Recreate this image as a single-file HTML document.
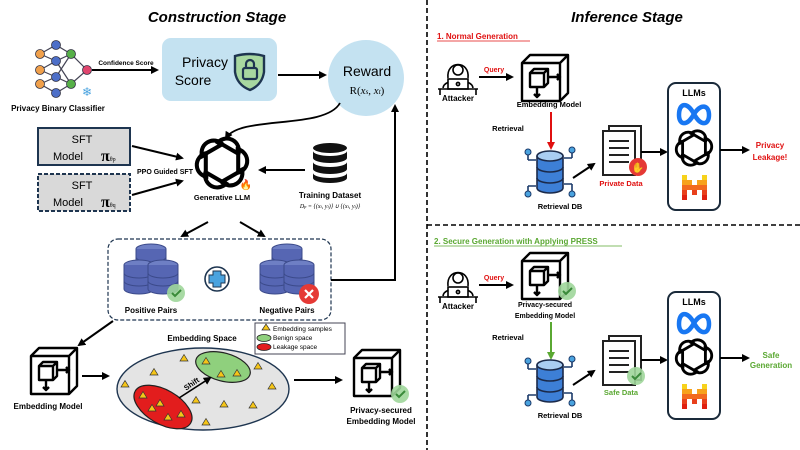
<!DOCTYPE html>
<html><head><meta charset="utf-8"><style>
html,body{margin:0;padding:0;background:#fff;}
svg{display:block;font-family:"Liberation Sans",sans-serif;}
.b{font-weight:bold;}
</style></head><body>
<svg width="800" height="450" viewBox="0 0 800 450" xmlns="http://www.w3.org/2000/svg">
<defs>
<marker id="ah" markerWidth="8" markerHeight="8" refX="6" refY="4" orient="auto" markerUnits="userSpaceOnUse"><path d="M0,0 L8,4 L0,8 Z" fill="#000"/></marker>
<marker id="ahr" markerWidth="8" markerHeight="8" refX="6" refY="4" orient="auto" markerUnits="userSpaceOnUse"><path d="M0,0 L8,4 L0,8 Z" fill="#e01010"/></marker>
<marker id="ahg" markerWidth="8" markerHeight="8" refX="6" refY="4" orient="auto" markerUnits="userSpaceOnUse"><path d="M0,0 L8,4 L0,8 Z" fill="#5aa832"/></marker>
<g id="cube" fill="none" stroke="#000" stroke-width="2.4" stroke-linejoin="round">
<path d="M0,8 L8,0 L46,0 L46,38 L38,46 L0,46 Z"/>
<path d="M0,8 L38,8 L38,46 M38,8 L46,0"/>
<path d="M8,18 L12,14 L26,14 L26,28 L22,32 L8,32 Z M8,18 L22,18 L22,32 M22,18 L26,14"/>
<path d="M26,22 L38,22 M35,19 L38,22 L35,25 M15,32 L15,42 M12,39 L15,42 L18,39"/>
</g>
<g id="oai" fill="none" stroke="#000" stroke-width="3">
<g id="petal"><path d="M-4,-14 A9,9 0 0 1 12,-6 L12,8"/></g>
<use href="#petal" transform="rotate(60)"/><use href="#petal" transform="rotate(120)"/>
<use href="#petal" transform="rotate(180)"/><use href="#petal" transform="rotate(240)"/><use href="#petal" transform="rotate(300)"/>
</g>
<g id="db3">
<ellipse cx="0" cy="-10" rx="15" ry="5" fill="#6e7fc4" stroke="#3b4a8a"/>
<path d="M-15,-10 V14 A15,5 0 0 0 15,14 V-10" fill="#5666b3" stroke="#3b4a8a"/>
<path d="M-15,-2 A15,5 0 0 0 15,-2 M-15,6 A15,5 0 0 0 15,6" fill="none" stroke="#3b4a8a"/>
</g>
<g id="dbstack">
<use href="#db3" transform="translate(0,-6)"/>
<use href="#db3" transform="translate(-12,10)"/>
<use href="#db3" transform="translate(12,10)"/>
</g>
<g id="rdb">
<path d="M-22,-12 H-14 M-22,-12 V-18 M22,-14 H14 M22,-14 V-20 M-22,14 H-14 M-22,14 V20 M22,12 H14 M22,12 V20" stroke="#1b3a6a" stroke-width="1.6" fill="none"/>
<circle cx="-22" cy="-20" r="3" fill="#4aa3df" stroke="#1b3a6a"/><circle cx="22" cy="-22" r="3" fill="#4aa3df" stroke="#1b3a6a"/>
<circle cx="-22" cy="22" r="3" fill="#4aa3df" stroke="#1b3a6a"/><circle cx="22" cy="22" r="3" fill="#4aa3df" stroke="#1b3a6a"/>
<path d="M-13,-16 V16 A13,5 0 0 0 13,16 V-16" fill="#3d7fd6" stroke="#1b2a4a" stroke-width="1.6"/>
<ellipse cx="0" cy="-16" rx="13" ry="5" fill="#a9cdf2" stroke="#1b2a4a" stroke-width="1.6"/>
<path d="M-13,-5 A13,5 0 0 0 13,-5 M-13,6 A13,5 0 0 0 13,6" fill="none" stroke="#1b2a4a" stroke-width="1.6"/>
</g>
<g id="doc">
<rect x="6" y="-2" width="32" height="44" fill="#fff" stroke="#222" stroke-width="2"/>
<rect x="0" y="3" width="32" height="44" fill="#fff" stroke="#222" stroke-width="2"/>
<path d="M6,13 H26 M6,20 H26 M6,27 H26 M6,34 H26" stroke="#222" stroke-width="2"/>
</g>
<g id="llms">
<rect x="0" y="0" width="52" height="127" rx="8" fill="#fff" stroke="#1a2a3a" stroke-width="2"/>
<text x="26" y="13" text-anchor="middle" font-size="9" class="b">LLMs</text>
<path d="M11,32 C11,20 19,18 26,31 C33,44 41,42 41,32 C41,22 33,20 26,31 C19,44 11,42 11,32 Z" fill="none" stroke="#1877f2" stroke-width="4.5"/>
<use href="#oai" transform="translate(26,65) scale(0.95)"/>
<g transform="translate(14,92)">
<rect x="0" y="0" width="5" height="5" fill="#f7d21b"/><rect x="20" y="0" width="5" height="5" fill="#f7d21b"/>
<rect x="0" y="5" width="10" height="5" fill="#f7a21b"/><rect x="15" y="5" width="10" height="5" fill="#f7a21b"/>
<rect x="0" y="10" width="25" height="5" fill="#f26a1e"/>
<rect x="0" y="15" width="5" height="5" fill="#e8401c"/><rect x="10" y="15" width="5" height="5" fill="#e8401c"/><rect x="20" y="15" width="5" height="5" fill="#e8401c"/>
<rect x="0" y="20" width="5" height="5" fill="#e02010"/><rect x="20" y="20" width="5" height="5" fill="#e02010"/>
</g>
</g>
<g id="attacker" fill="none" stroke="#000" stroke-width="1.6">
<path d="M-10,4 C-12,-14 12,-14 10,4"/><circle cx="0" cy="-4" r="5"/>
<path d="M-15,14 C-14,4 14,4 15,14"/>
<rect x="-10" y="5" width="20" height="10" fill="#fff"/><circle cx="0" cy="10" r="1.6"/>
<path d="M-20,15 H20 M-18,15 V21 M18,15 V21"/>
</g>
<g id="chk"><circle r="9" fill="#9fd69a" opacity="0.9"/><path d="M-4,0 L-1,3 L5,-3" stroke="#3a8a3a" stroke-width="2" fill="none"/></g>
</defs>

<line x1="427" y1="0" x2="427" y2="450" stroke="#000" stroke-width="1.6" stroke-dasharray="5,3"/>
<line x1="427" y1="225" x2="800" y2="225" stroke="#000" stroke-width="1.6" stroke-dasharray="5,3"/>

<text x="217" y="22" text-anchor="middle" font-size="15" font-weight="bold" font-style="italic">Construction Stage</text>
<g stroke="#445" stroke-width="1.2" fill="none">
<path d="M40,54 L56,45 L71,54 L56,61 L40,54 M40,70 L56,61 M40,70 L56,77 M40,84 L56,77 L71,84 L56,93 L40,84 M56,45 L71,54 L87,70 L71,84 M56,77 L71,54 M56,61 L71,84"/>
</g>
<g stroke="#334" stroke-width="0.8">
<circle cx="40" cy="54" r="4.5" fill="#f0a04b"/><circle cx="40" cy="70" r="4.5" fill="#f0a04b"/><circle cx="40" cy="84" r="4.5" fill="#f0a04b"/>
<circle cx="56" cy="45" r="4.5" fill="#4d6fc8"/><circle cx="56" cy="61" r="4.5" fill="#4d6fc8"/><circle cx="56" cy="77" r="4.5" fill="#4d6fc8"/><circle cx="56" cy="93" r="4.5" fill="#4d6fc8"/>
<circle cx="71" cy="54" r="4.5" fill="#56b048"/><circle cx="71" cy="84" r="4.5" fill="#56b048"/>
<circle cx="87" cy="70" r="4.5" fill="#e0456e"/>
</g>
<text x="87" y="96" text-anchor="middle" font-size="12" fill="#4aa3df">❄</text>
<text x="58" y="111" text-anchor="middle" font-size="8" class="b">Privacy Binary Classifier</text>
<line x1="92" y1="70" x2="157" y2="70" stroke="#000" stroke-width="2" marker-end="url(#ah)"/>
<text x="126" y="65" text-anchor="middle" font-size="6.5" class="b">Confidence Score</text>
<rect x="162" y="38" width="115" height="63" rx="9" fill="#c4e2f1"/>
<text x="205" y="67" text-anchor="middle" font-size="14">Privacy</text>
<text x="193" y="85" text-anchor="middle" font-size="14">Score</text>
<path d="M235,56 Q250,52 264,56 V72 Q262,85 250,90 Q237,85 235,72 Z" fill="#a8d8a0" stroke="#1e3550" stroke-width="2.4"/>
<rect x="243" y="68" width="14" height="11" rx="2" fill="none" stroke="#1e3550" stroke-width="2.2"/>
<path d="M246,68 V64 A4,4 0 0 1 254,64 V68" fill="none" stroke="#1e3550" stroke-width="2.2"/>
<line x1="278" y1="75" x2="325" y2="75" stroke="#000" stroke-width="2" marker-end="url(#ah)"/>
<circle cx="366" cy="78" r="38" fill="#c4e2f1"/>
<text x="367" y="76" text-anchor="middle" font-size="14">Reward</text>
<text x="367" y="94" text-anchor="middle" font-size="11" font-family="Liberation Serif,serif">R(<tspan font-style="italic">x</tspan><tspan font-size="7" font-style="italic">s</tspan>, <tspan font-style="italic">x</tspan><tspan font-size="7" font-style="italic">t</tspan>)</text>
<path d="M340,103 C325,130 240,115 226,138" fill="none" stroke="#000" stroke-width="1.8" marker-end="url(#ah)"/>
<rect x="38" y="128" width="92" height="37" fill="#d9d9d9" stroke="#1e3550" stroke-width="2"/>
<text x="82" y="143" text-anchor="middle" font-size="11">SFT</text>
<text x="68" y="160" text-anchor="middle" font-size="11">Model</text>
<text x="101" y="161" font-size="16" font-weight="bold" font-family="Liberation Serif,serif">π<tspan font-size="6" font-weight="normal">θp</tspan></text>
<rect x="38" y="174" width="92" height="37" fill="#d9d9d9" stroke="#1e3550" stroke-width="2" stroke-dasharray="4,2"/>
<text x="82" y="189" text-anchor="middle" font-size="11">SFT</text>
<text x="68" y="206" text-anchor="middle" font-size="11">Model</text>
<text x="101" y="207" font-size="16" font-weight="bold" font-family="Liberation Serif,serif">π<tspan font-size="6" font-weight="normal">θq</tspan></text>
<line x1="132" y1="146" x2="182" y2="158" stroke="#000" stroke-width="2" marker-end="url(#ah)"/>
<line x1="132" y1="195" x2="182" y2="181" stroke="#000" stroke-width="2" marker-end="url(#ah)"/>
<text x="165" y="174" text-anchor="middle" font-size="7" class="b">PPO Guided SFT</text>
<use href="#oai" transform="translate(222,163) scale(1.35)"/>
<text x="246" y="188" text-anchor="middle" font-size="10" fill="#f07a1a">🔥</text>
<text x="222" y="200" text-anchor="middle" font-size="7.5" class="b">Generative LLM</text>
<g transform="translate(330,148)">
<ellipse cx="0" cy="0" rx="17" ry="5" fill="#111"/>
<path d="M-17,3 V10 A17,5 0 0 0 17,10 V3 A17,5 0 0 1 -17,3 Z M-17,14 V21 A17,5 0 0 0 17,21 V14 A17,5 0 0 1 -17,14 Z M-17,25 V30 A17,5 0 0 0 17,30 V25 A17,5 0 0 1 -17,25 Z" fill="#111"/>
</g>
<line x1="305" y1="170" x2="260" y2="170" stroke="#000" stroke-width="2" marker-end="url(#ah)"/>
<text x="330" y="198" text-anchor="middle" font-size="8" class="b">Training Dataset</text>
<text x="330" y="208" text-anchor="middle" font-size="6" font-style="italic" font-family="Liberation Serif,serif">D<tspan font-size="4.5">p</tspan> = {(x<tspan font-size="4.5">i</tspan>, y<tspan font-size="4.5">i</tspan>)} ∪ {(x<tspan font-size="4.5">i</tspan>, y<tspan font-size="4.5">i</tspan>)}</text>
<line x1="208" y1="222" x2="182" y2="236" stroke="#000" stroke-width="2" marker-end="url(#ah)"/>
<line x1="240" y1="222" x2="264" y2="236" stroke="#000" stroke-width="2" marker-end="url(#ah)"/>
<rect x="108" y="239" width="223" height="81" rx="10" fill="none" stroke="#1e3550" stroke-width="1.2" stroke-dasharray="4,2"/>
<use href="#dbstack" transform="translate(151,265)"/>
<use href="#chk" transform="translate(176,293)"/>
<text x="151" y="313" text-anchor="middle" font-size="8" class="b">Positive Pairs</text>
<circle cx="217" cy="279" r="12" fill="#fff" stroke="#1e3550" stroke-width="1.6"/>
<path d="M213,271 H221 V275 H225 V283 H221 V287 H213 V283 H209 V275 H213 Z" fill="#4aa3df" stroke="#1e3550"/>
<use href="#dbstack" transform="translate(287,265)"/>
<circle cx="309" cy="294" r="10" fill="#e53935"/>
<path d="M305,290 L313,298 M313,290 L305,298" stroke="#fff" stroke-width="2.2"/>
<text x="287" y="313" text-anchor="middle" font-size="8" class="b">Negative Pairs</text>
<path d="M331,280 H395 V106" fill="none" stroke="#000" stroke-width="2" marker-end="url(#ah)"/>
<line x1="113" y1="321" x2="79" y2="345" stroke="#000" stroke-width="2" marker-end="url(#ah)"/>
<use href="#cube" transform="translate(31,348)"/>
<text x="48" y="409" text-anchor="middle" font-size="8" class="b">Embedding Model</text>
<line x1="82" y1="376" x2="108" y2="376" stroke="#000" stroke-width="2" marker-end="url(#ah)"/>
<text x="202" y="341" text-anchor="middle" font-size="8" class="b">Embedding Space</text>
<ellipse cx="203" cy="389" rx="86" ry="41" fill="#e4e4e4" stroke="#1e3550" stroke-width="1.4"/>
<ellipse cx="163" cy="407" rx="32" ry="17" transform="rotate(30 163 407)" fill="#e21d1d" stroke="#222" stroke-width="1.2"/>
<ellipse cx="223" cy="367" rx="28" ry="14" transform="rotate(15 223 367)" fill="#8fd07d" stroke="#222" stroke-width="1.2"/>
<line x1="179" y1="398" x2="210" y2="378" stroke="#000" stroke-width="1.6" marker-end="url(#ah)"/>
<text x="193" y="386" font-size="7.5" class="b" transform="rotate(-35 193 386)" text-anchor="middle">Shift</text>
<g fill="#f5c518" stroke="#333" stroke-width="0.7">
<path d="M0,-3.5 L4,3 L-4,3 Z" transform="translate(184,358)"/>
<path d="M0,-3.5 L4,3 L-4,3 Z" transform="translate(154,372)"/><path d="M0,-3.5 L4,3 L-4,3 Z" transform="translate(125,384)"/>
<path d="M0,-3.5 L4,3 L-4,3 Z" transform="translate(143,395)"/><path d="M0,-3.5 L4,3 L-4,3 Z" transform="translate(152,408)"/>
<path d="M0,-3.5 L4,3 L-4,3 Z" transform="translate(160,403)"/><path d="M0,-3.5 L4,3 L-4,3 Z" transform="translate(168,417)"/>
<path d="M0,-3.5 L4,3 L-4,3 Z" transform="translate(181,414)"/><path d="M0,-3.5 L4,3 L-4,3 Z" transform="translate(196,400)"/>
<path d="M0,-3.5 L4,3 L-4,3 Z" transform="translate(206,361)"/><path d="M0,-3.5 L4,3 L-4,3 Z" transform="translate(221,374)"/>
<path d="M0,-3.5 L4,3 L-4,3 Z" transform="translate(237,373)"/><path d="M0,-3.5 L4,3 L-4,3 Z" transform="translate(258,366)"/>
<path d="M0,-3.5 L4,3 L-4,3 Z" transform="translate(272,386)"/><path d="M0,-3.5 L4,3 L-4,3 Z" transform="translate(224,404)"/>
<path d="M0,-3.5 L4,3 L-4,3 Z" transform="translate(253,405)"/><path d="M0,-3.5 L4,3 L-4,3 Z" transform="translate(206,422)"/>
</g>
<rect x="255" y="323" width="90" height="31" fill="#fff" stroke="#445" stroke-width="1"/>
<path d="M262,330 L266,324 L270,330 Z" fill="#f5c518" stroke="#333" stroke-width="0.7"/>
<text x="273" y="331" font-size="6.5">Embedding samples</text>
<ellipse cx="264" cy="338" rx="7" ry="3.5" fill="#8fd07d" stroke="#222" stroke-width="0.8"/>
<text x="273" y="340" font-size="6.5">Benign space</text>
<ellipse cx="264" cy="347" rx="7" ry="3.5" fill="#e21d1d" stroke="#222" stroke-width="0.8"/>
<text x="273" y="349" font-size="6.5">Leakage space</text>
<line x1="294" y1="380" x2="341" y2="380" stroke="#000" stroke-width="2" marker-end="url(#ah)"/>
<use href="#cube" transform="translate(354,350)"/>
<use href="#chk" transform="translate(400,394)"/>
<text x="381" y="413" text-anchor="middle" font-size="8" class="b">Privacy-secured</text>
<text x="381" y="424" text-anchor="middle" font-size="8" class="b">Embedding Model</text>

<text x="627" y="22" text-anchor="middle" font-size="15" font-weight="bold" font-style="italic">Inference Stage</text>
<text x="437" y="39" font-size="8" class="b" fill="#e01010">1. Normal Generation</text>
<line x1="437" y1="41" x2="530" y2="41" stroke="#e01010" stroke-width="0.8"/>
<use href="#attacker" transform="translate(458,74)"/>
<text x="458" y="101" text-anchor="middle" font-size="8" class="b">Attacker</text>
<line x1="479" y1="77" x2="512" y2="77" stroke="#000" stroke-width="2" marker-end="url(#ah)"/>
<text x="494" y="72" text-anchor="middle" font-size="7" class="b" fill="#e01010">Query</text>
<use href="#cube" transform="translate(522,55)"/>
<text x="549" y="107" text-anchor="middle" font-size="7.5" class="b">Embedding Model</text>
<line x1="551" y1="112" x2="551" y2="148" stroke="#e01010" stroke-width="2" marker-end="url(#ahr)"/>
<text x="508" y="131" text-anchor="middle" font-size="7.5" class="b">Retrieval</text>
<use href="#rdb" transform="translate(550,172)"/>
<text x="560" y="209" text-anchor="middle" font-size="7.5" class="b">Retrieval DB</text>
<line x1="573" y1="178" x2="594" y2="164" stroke="#000" stroke-width="2" marker-end="url(#ah)"/>
<use href="#doc" transform="translate(603,128)"/>
<circle cx="638" cy="167" r="9" fill="#e53935"/>
<text x="638" y="171" text-anchor="middle" font-size="10" fill="#f7c21b">✋</text>
<text x="621" y="186" text-anchor="middle" font-size="7.5" class="b" fill="#e01010">Private Data</text>
<line x1="641" y1="152" x2="666" y2="152" stroke="#000" stroke-width="2" marker-end="url(#ah)"/>
<use href="#llms" transform="translate(668,83)"/>
<line x1="720" y1="150" x2="748" y2="150" stroke="#000" stroke-width="2" marker-end="url(#ah)"/>
<text x="770" y="148" text-anchor="middle" font-size="8" class="b" fill="#e01010">Privacy</text>
<text x="770" y="160" text-anchor="middle" font-size="8" class="b" fill="#e01010">Leakage!</text>

<text x="434" y="244" font-size="8" class="b" fill="#5aa832">2. Secure Generation with Applying PRESS</text>
<line x1="434" y1="246" x2="622" y2="246" stroke="#5aa832" stroke-width="0.8"/>
<use href="#attacker" transform="translate(458,282)"/>
<text x="458" y="309" text-anchor="middle" font-size="8" class="b">Attacker</text>
<line x1="479" y1="285" x2="512" y2="285" stroke="#000" stroke-width="2" marker-end="url(#ah)"/>
<text x="494" y="280" text-anchor="middle" font-size="7" class="b" fill="#e01010">Query</text>
<use href="#cube" transform="translate(522,253)"/>
<use href="#chk" transform="translate(567,291)"/>
<text x="545" y="307" text-anchor="middle" font-size="7" class="b">Privacy-secured</text>
<text x="545" y="318" text-anchor="middle" font-size="7" class="b">Embedding Model</text>
<line x1="551" y1="322" x2="551" y2="358" stroke="#5aa832" stroke-width="2" marker-end="url(#ahg)"/>
<text x="508" y="340" text-anchor="middle" font-size="7.5" class="b">Retrieval</text>
<use href="#rdb" transform="translate(550,381)"/>
<text x="560" y="418" text-anchor="middle" font-size="7.5" class="b">Retrieval DB</text>
<line x1="573" y1="385" x2="594" y2="371" stroke="#000" stroke-width="2" marker-end="url(#ah)"/>
<use href="#doc" transform="translate(603,338)"/>
<use href="#chk" transform="translate(636,376)"/>
<text x="621" y="395" text-anchor="middle" font-size="7.5" class="b" fill="#5aa832">Safe Data</text>
<line x1="641" y1="360" x2="666" y2="360" stroke="#000" stroke-width="2" marker-end="url(#ah)"/>
<use href="#llms" transform="translate(668,292)"/>
<line x1="720" y1="358" x2="748" y2="358" stroke="#000" stroke-width="2" marker-end="url(#ah)"/>
<text x="771" y="358" text-anchor="middle" font-size="8" class="b" fill="#5aa832">Safe</text>
<text x="771" y="368" text-anchor="middle" font-size="8" class="b" fill="#5aa832">Generation</text>
</svg>
</body></html>
